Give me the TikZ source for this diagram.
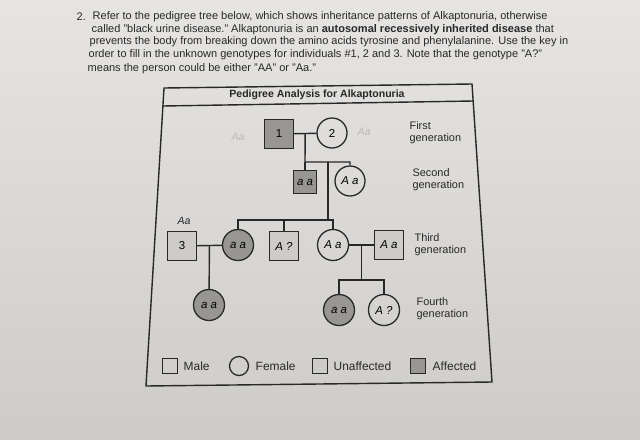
\documentclass[tikz,border=0pt]{standalone}
\usepackage{fontspec}
\setmainfont{Liberation Sans}
\usetikzlibrary{calc}
\definecolor{paper}{RGB}{219,217,214}
\definecolor{sick}{RGB}{152,150,147}
\definecolor{healthy}{RGB}{206,204,201}
\definecolor{ink}{RGB}{40,40,40}
\tikzset{
	male/.style={rectangle,draw=ink,line width=1.1pt,minimum size=#1,inner sep=0pt,fill=healthy,font=\fontsize{9.8}{10}\selectfont},
	male/.default=0.86cm,
	female/.style={circle,draw=ink,line width=1.1pt,minimum size=#1,inner sep=0pt,font=\fontsize{9.8}{10}\selectfont},
	female/.default=0.93cm,
	affected/.style={fill=sick},
	gentext/.style={anchor=west,align=left,font=\fontsize{9.3}{10.5}\selectfont,text=ink},
	bodytext/.style={anchor=west,inner sep=0pt,font=\fontsize{9.4}{11}\selectfont,text=ink},
	keytext/.style={anchor=west,inner sep=0pt,font=\fontsize{10.2}{11}\selectfont,text=ink},
	pencil/.style={font=\fontsize{9}{10}\selectfont\itshape,text=#1},
	pencil/.default=ink
}
\begin{document}
\begin{tikzpicture}[x=0.03cm,y=-0.03cm,line width=1.2pt,draw=ink]
			\shade[top color=paper!70!white,bottom color=paper!94!black] (0,0) rectangle (640,439);
			\useasboundingbox (0,0) rectangle (640,439);
			\node[bodytext] (num) at (76,17) {2.};
			\node[bodytext] (l1) at (92,17) {Refer to the pedigree tree below, which shows inheritance patterns of Alkaptonuria, otherwise};
			\node[bodytext] (l2) at (91,29.5) {called "black urine disease." Alkaptonuria is an \textbf{autosomal recessively inherited disease} that};
			\node[bodytext] (l3) at (89,42) {prevents the body from breaking down the amino acids tyrosine and phenylalanine. Use the key in};
			\node[bodytext] (l4) at (88,54.5) {order to fill in the unknown genotypes for individuals \#1, 2 and 3. Note that the genotype "A?"};
			\node[bodytext] (l5) at (87,69) {means the person could be either "AA" or "Aa."};
			\draw[ink] (164,88) -- (472,84) -- (492,382) -- (146,386) -- cycle;
			\draw[ink] (163,106) -- (473,101);
			\node[font=\fontsize{9}{10}\selectfont\bfseries,text=ink] (title) at (317,95) {Pedigree Analysis for Alkaptonuria};
			\node[male,affected] (g1m) at (279,134) {1};
			\node[female=0.9cm] (g1f) at (332,133) {2};
			\node[male=0.69cm,affected] (g2m) at (305,182) {\itshape a a};
			\node[female=0.9cm] (g2f) at (350,181) {\itshape A a};
			\node[male] (g3m) at (182,246) {3};
			\node[female,affected] (g3a) at (238,245) {\itshape a a};
			\node[male] (g3b) at (284,246) {\itshape A ?};
			\node[female] (g3c) at (333,245) {\itshape A a};
			\node[male] (g3d) at (389,245) {\itshape A a};
			\node[female,affected] (g4a) at (209,305) {\itshape a a};
			\node[female,affected] (g4b) at (339,310) {\itshape a a};
			\node[female] (g4c) at (384,310) {\itshape A ?};
			\coordinate (c12) at ($(g1m.east)!0.5!(g1f.west)$);
			\coordinate (s2) at (305,162);
			\coordinate (d2) at (328,162);
			\coordinate (s3) at (328,220);
			\coordinate (c3) at ($(g3m.east)!0.5!(g3a.west)$);
			\coordinate (c4) at ($(g3c.east)!0.5!(g3d.west)$);
			\coordinate (s4) at ($(c4)+(0,35)$);
			\draw (g1m) -- (g1f);
			\draw (c12) -- (s2) -| (g2f);
			\draw (s2) -- (g2m);
			\draw (d2) -- (s3);
			\draw (g3a) |- (s3) -| (g3c);
			\draw (g3b) -- (g3b |- s3);
			\draw (g3m) -- (g3a);
			\draw (c3) -- (g4a);
			\draw (g3c) -- (g3d);
			\draw (c4) -- (s4);
			\draw (g4b) |- (s4) -| (g4c);
			\node[gentext] (gen1) at (405,133) {First\\generation};
			\node[gentext] (gen2) at (408,180) {Second\\generation};
			\node[gentext] (gen3) at (410,245) {Third\\generation};
			\node[gentext] (gen4) at (412,309) {Fourth\\generation};
			\node[pencil] (hw3) at (184,221) {Aa};
			\node[pencil=paper!85!black] (hw1) at (238,137) {Aa};
			\node[pencil=paper!85!black] (hw2) at (364,132) {Aa};
			\node[male=0.45cm,fill=none] (km) at (170,366) {};
			\node[keytext] (kmt) at (183,366) {Male};
			\node[female=0.57cm] (kf) at (239,366) {};
			\node[keytext] (kft) at (255,366) {Female};
			\node[male=0.45cm] (ku) at (320,366) {};
			\node[keytext] (kut) at (333,366) {Unaffected};
			\node[male=0.47cm,affected] (ka) at (418,366) {};
			\node[keytext] (kat) at (432,366) {Affected};
		\end{tikzpicture}
\end{document}
